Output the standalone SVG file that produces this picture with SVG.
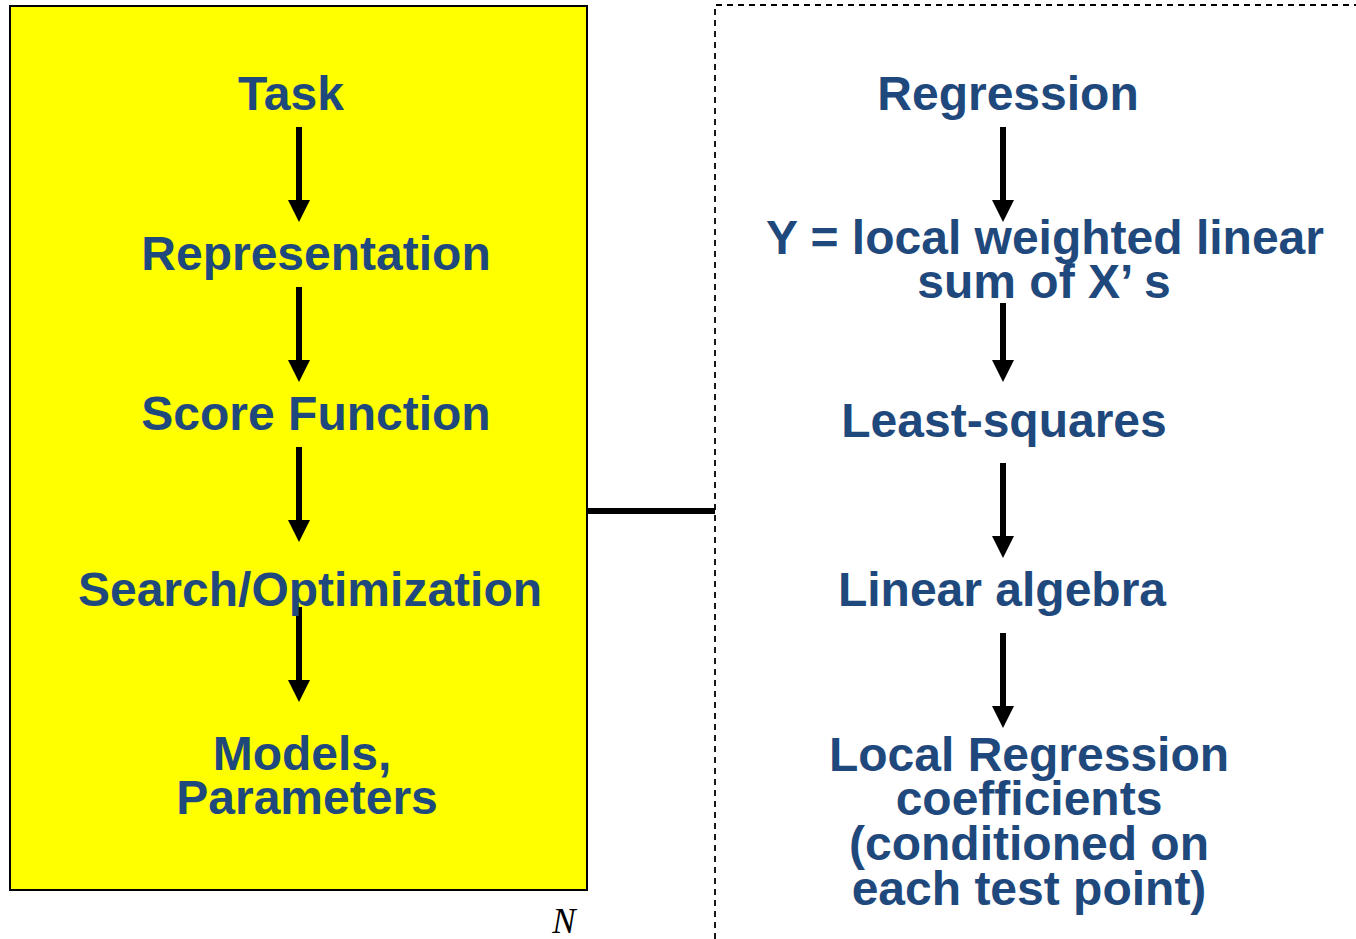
<svg xmlns="http://www.w3.org/2000/svg" width="1356" height="939" viewBox="0 0 1356 939">
<style>
.t{font-family:"Liberation Sans",Arial,sans-serif;font-weight:bold;font-size:48px;fill:#1F497D;text-anchor:middle}
</style>
<rect width="1356" height="939" fill="#fff"/>
<g id="panel">
<rect x="10" y="6" width="577" height="884" fill="#FFFF00" stroke="#000" stroke-width="2"/>
</g>
<g id="dashed-box">
<path d="M715,939 L715,5 L1356,5" fill="none" stroke="#000" stroke-width="1.8" stroke-dasharray="6,5"/>
</g>
<g id="connectors">
<line x1="587" y1="511" x2="715" y2="511" stroke="#000" stroke-width="6"/>
<g fill="#000">
<rect x="296" y="127" width="6" height="75"/><path d="M288,200 L310,200 L299,222 Z"/>
<rect x="296" y="287" width="6" height="75"/><path d="M288,360 L310,360 L299,382 Z"/>
<rect x="296" y="447" width="6" height="75"/><path d="M288,520 L310,520 L299,542 Z"/>
<rect x="296" y="607" width="6" height="75"/><path d="M288,680 L310,680 L299,702 Z"/>
<rect x="1000" y="127" width="6" height="75"/><path d="M992,200 L1014,200 L1003,222 Z"/>
<rect x="1000" y="303" width="6" height="59"/><path d="M992,360 L1014,360 L1003,382 Z"/>
<rect x="1000" y="463" width="6" height="75"/><path d="M992,536 L1014,536 L1003,558 Z"/>
<rect x="1000" y="633" width="6" height="75"/><path d="M992,706 L1014,706 L1003,728 Z"/>
</g>
</g>
<g id="task"><text class="t" x="291" y="110">Task</text></g>
<g id="representation"><text class="t" x="316" y="270">Representation</text></g>
<g id="score"><text class="t" x="316" y="430">Score Function</text></g>
<g id="search"><text class="t" x="310" y="606">Search/Optimization</text></g>
<g id="models"><text class="t" x="302" y="770">Models,</text><text class="t" x="307" y="814">Parameters</text></g>
<g id="regression"><text class="t" x="1008" y="110">Regression</text></g>
<g id="ylocal"><text class="t" x="1045" y="254">Y = local weighted linear</text><text class="t" x="1044" y="298">sum of X’ s</text></g>
<g id="leastsq"><text class="t" x="1004" y="437">Least-squares</text></g>
<g id="linalg"><text class="t" x="1002" y="606">Linear algebra</text></g>
<g id="coeffs"><text class="t" x="1029" y="771">Local Regression</text><text class="t" x="1029" y="815">coefficients</text><text class="t" x="1029" y="860">(conditioned on</text><text class="t" x="1029" y="905">each test point)</text></g>
<g id="n-label"><text x="564" y="933" font-family="'Liberation Serif','Times New Roman',serif" font-style="italic" font-size="35" text-anchor="middle" fill="#000">N</text></g>
</svg>
